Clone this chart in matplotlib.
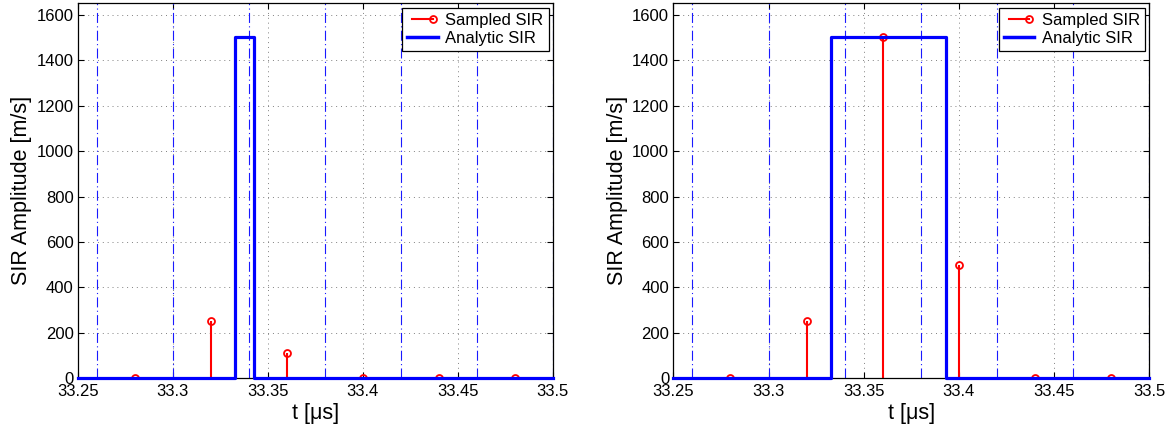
import numpy as np
import matplotlib
matplotlib.use('Agg')
import matplotlib.pyplot as plt
from matplotlib.lines import Line2D
from matplotlib.legend_handler import HandlerLine2D
from matplotlib.ticker import FuncFormatter

plt.rcParams['font.family'] = ['Liberation Sans', 'DejaVu Sans']

# Instantes de muestreo [us] y amplitudes muestreadas [m/s]
t_muestras = [33.28, 33.32, 33.36, 33.40, 33.44, 33.48]
sir_muestreada_a = [0, 250, 110, 0, 0, 0]
sir_muestreada_b = [0, 250, 1500, 500, 0, 0]

# Pulso analítico: inicio, fin [us] y amplitud [m/s]
pulso_a = (33.333, 33.343)
pulso_b = (33.333, 33.393)
amplitud = 1500

# Bordes de cada intervalo de muestreo
bordes = [33.26, 33.30, 33.34, 33.38, 33.42, 33.46, 33.50]

t_min, t_max = 33.25, 33.5
xticks = [33.25, 33.3, 33.35, 33.4, 33.45, 33.5]
yticks = [0, 200, 400, 600, 800, 1000, 1200, 1400, 1600]


# Leyenda tipo stem: línea con el marcador solo en el extremo derecho
class HandlerStem(HandlerLine2D):
    def create_artists(self, *args, **kwargs):
        arts = super().create_artists(*args, **kwargs)
        for a in arts:
            a.set_markevery([1])
        return arts


fig = plt.figure(figsize=(11.7, 4.26), dpi=100)
ax1 = fig.add_axes([0.0664, 0.112, 0.406, 0.880])
ax2 = fig.add_axes([0.5755, 0.112, 0.4068, 0.880])


def dibujar(ax, muestras, pulso):
    # Rejilla punteada
    ax.grid(True, linestyle=(0, (1, 4)), color='0.5', linewidth=0.7)
    ax.set_axisbelow(True)

    # Bordes de los intervalos
    for b in bordes:
        ax.axvline(b, color='#1a1aff', linestyle=(0, (9, 3, 1, 3)), linewidth=0.8, zorder=1.5)

    # SIR muestreada (stem)
    ml, sl, bl = ax.stem(t_muestras, muestras, linefmt='r-', markerfmt='ro', basefmt=' ')
    plt.setp(sl, linewidth=1.5)
    plt.setp(ml, markersize=5, markerfacecolor='none', markeredgewidth=1.3)

    # SIR analítica (pulso rectangular)
    t0, t1 = pulso
    ta = [t_min, t0, t0, t1, t1, t_max]
    ya = [0, 0, amplitud, amplitud, 0, 0]
    ax.plot(ta, ya, color='blue', linewidth=2.3, zorder=3, clip_on=False)

    ax.set_xlim(t_min, t_max)
    ax.set_ylim(0, 1650)
    ax.set_xticks(xticks)
    ax.set_yticks(yticks)
    ax.xaxis.set_major_formatter(FuncFormatter(lambda v, p: '%g' % round(v, 2)))
    ax.tick_params(direction='in', top=True, right=True, labelsize=12, length=4)
    ax.tick_params(axis='x', pad=4)
    ax.tick_params(axis='y', pad=3)
    ax.set_xlabel('t [\u03bcs]', fontsize=15.5, labelpad=3)
    ax.set_ylabel('SIR Amplitude [m/s]', fontsize=15.5, labelpad=3)
    for s in ax.spines.values():
        s.set_linewidth(0.9)

    h_muestreada = Line2D([0, 1], [0, 1], color='red', linewidth=1.5, marker='o',
                          markersize=5, markerfacecolor='none', markeredgewidth=1.3)
    h_analitica = Line2D([0, 1], [0, 1], color='blue', linewidth=2.5)
    leg = ax.legend([h_muestreada, h_analitica], ['Sampled SIR', 'Analytic SIR'],
                    loc='upper right', fontsize=12, fancybox=False,
                    framealpha=1, edgecolor='black', handlelength=1.85,
                    borderpad=0.3, labelspacing=0.22, handletextpad=0.45,
                    borderaxespad=0.25,
                    handler_map={h_muestreada: HandlerStem(numpoints=2)})
    leg.get_frame().set_linewidth(0.9)


dibujar(ax1, sir_muestreada_a, pulso_a)
dibujar(ax2, sir_muestreada_b, pulso_b)

fig.savefig('out.png', dpi=100)
